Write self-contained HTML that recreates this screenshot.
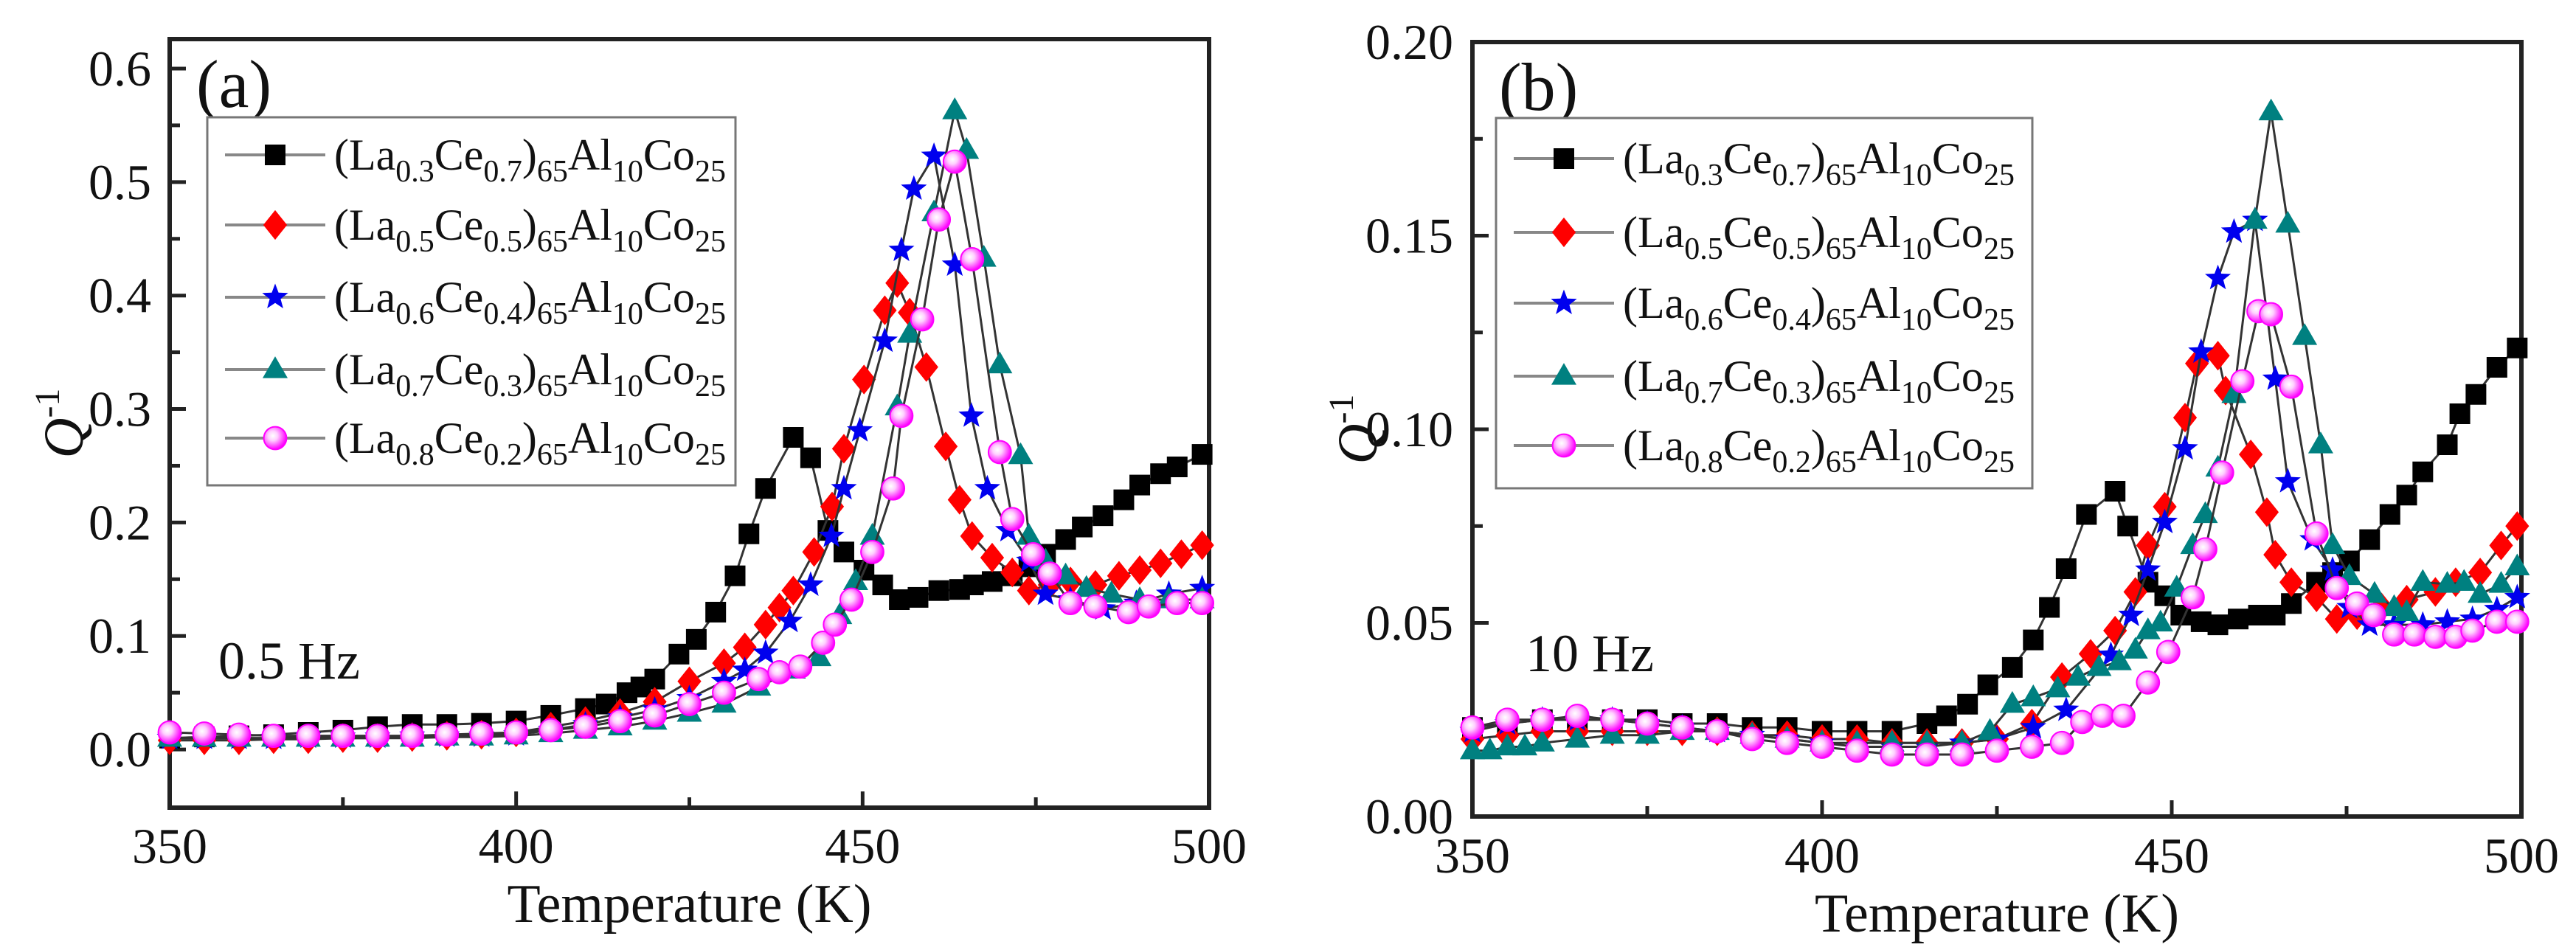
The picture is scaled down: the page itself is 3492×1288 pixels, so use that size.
<!DOCTYPE html>
<html><head><meta charset="utf-8">
<style>
html,body{margin:0;padding:0;background:#fff;}
svg{display:block;font-family:"Liberation Serif",serif;}
</style></head>
<body>
<svg id="fig" width="3492" height="1288" viewBox="0 0 3492 1288" xmlns="http://www.w3.org/2000/svg">
<defs>
<radialGradient id="mg" cx="0.4" cy="0.4" r="0.6">
<stop offset="0" stop-color="#fff"/><stop offset="0.35" stop-color="#ffd0ff"/><stop offset="1" stop-color="#ff00ff"/>
</radialGradient>
</defs>
</svg>
<script>
// ---------- Panel (a) data: 0.5 Hz ----------
const aT0=[350,355,360,365,370,375,380,385,390,395,400,405,410,413,416,418,420,423.5,426,428.8,431.6,433.6,436,440,442.5,445,447.3,450.2,452.9,455.3,458,461,464,466,468.7,471.6,474,476.4,479.3,481.7,484.7,487.7,490,493,495.4,499];
const aV0=[0.01,0.011,0.012,0.013,0.015,0.017,0.02,0.022,0.022,0.023,0.025,0.03,0.036,0.04,0.05,0.055,0.062,0.084,0.097,0.121,0.153,0.19,0.23,0.275,0.257,0.193,0.174,0.158,0.145,0.132,0.134,0.14,0.141,0.145,0.148,0.153,0.161,0.172,0.185,0.196,0.206,0.22,0.233,0.243,0.249,0.26];
const aT1=[350,355,360,365,370,375,380,385,390,395,400,405,410,415,420,425,430,433,436,438,440,443,445.6,447.3,450.2,453.2,455,456.8,459.2,462,464,465.8,468.7,471.6,474,477,480,483.6,487,490,493,496,499];
const aV1=[0.008,0.008,0.008,0.009,0.009,0.01,0.01,0.011,0.012,0.013,0.015,0.02,0.025,0.032,0.042,0.06,0.076,0.09,0.11,0.125,0.14,0.174,0.214,0.265,0.326,0.387,0.411,0.385,0.337,0.267,0.22,0.188,0.169,0.156,0.14,0.145,0.148,0.145,0.153,0.158,0.164,0.172,0.18];
const aT2=[350,355,360,365,370,375,380,385,390,395,400,405,410,415,420,425,430,433,436,439.5,442.5,445.5,447.3,449.6,453.2,455.6,457.4,460.3,463.3,465.7,468,471,474,476.4,480,484.7,489.5,494.2,499];
const aV2=[0.01,0.01,0.01,0.01,0.011,0.011,0.011,0.012,0.012,0.012,0.013,0.017,0.022,0.028,0.035,0.045,0.06,0.07,0.085,0.113,0.145,0.188,0.23,0.281,0.36,0.44,0.494,0.523,0.427,0.294,0.23,0.193,0.166,0.137,0.132,0.124,0.129,0.137,0.142];
const aT3=[350,355,360,365,370,375,380,385,390,395,400,405,410,415,420,425,430,435,440,443.7,446.7,449,451.4,455,456.8,460.3,463.3,465,467.5,469.8,472.8,474,476.4,479.3,482.3,485.9,490,494.2,499];
const aV3=[0.01,0.01,0.01,0.01,0.01,0.01,0.01,0.01,0.011,0.011,0.012,0.014,0.017,0.02,0.025,0.032,0.04,0.055,0.07,0.081,0.118,0.148,0.188,0.302,0.366,0.473,0.563,0.528,0.433,0.339,0.259,0.188,0.166,0.153,0.142,0.137,0.132,0.132,0.132];
const aT4=[350,355,360,365,370,375,380,385,390,395,400,405,410,415,420,425,430,435,438,441,444.3,446,448.4,451.4,454.4,455.6,458.6,461,463.3,465.8,469.8,471.6,474.6,477,480,483.6,488.4,491.3,495.4,499];
const aV4=[0.015,0.014,0.013,0.012,0.012,0.012,0.012,0.012,0.013,0.014,0.015,0.017,0.02,0.025,0.03,0.04,0.05,0.062,0.068,0.073,0.094,0.11,0.132,0.174,0.23,0.294,0.379,0.467,0.518,0.432,0.262,0.203,0.172,0.155,0.129,0.126,0.121,0.126,0.129,0.129];
// ---------- Panel (b) data: 10 Hz ----------
const bT0=[350,355,360,365,370,375,380,385,390,395,400,405,410,415,417.8,420.8,423.7,427.2,430.2,432.5,434.9,437.8,441.9,443.7,446.6,449,451.3,454.2,456.6,459.5,462.4,464.8,467.1,470.7,473,475.4,478.3,481.2,483.6,485.9,489.4,491.2,493.5,496.5,499.4];
const bV0=[0.023,0.024,0.025,0.025,0.025,0.025,0.024,0.024,0.023,0.023,0.022,0.022,0.022,0.024,0.026,0.029,0.034,0.0385,0.0456,0.054,0.064,0.078,0.084,0.075,0.0605,0.057,0.052,0.0503,0.0495,0.051,0.052,0.052,0.055,0.0605,0.063,0.066,0.0715,0.078,0.083,0.089,0.096,0.104,0.109,0.116,0.121];
const bT1=[350,355,360,365,370,375,380,385,390,395,400,405,410,415,420,425,430,434.3,438.4,441.9,444.8,446.6,449,451.9,453.6,456.6,457.7,461.3,463.6,464.8,467.1,470.7,473.6,476.5,480,483.6,487.7,490.6,494.1,497.1,499.4];
const bV1=[0.02,0.021,0.022,0.022,0.022,0.022,0.022,0.022,0.021,0.021,0.02,0.02,0.019,0.019,0.019,0.02,0.024,0.036,0.042,0.048,0.058,0.07,0.08,0.103,0.117,0.119,0.11,0.0935,0.0786,0.0676,0.0605,0.0566,0.051,0.052,0.054,0.056,0.058,0.0605,0.063,0.07,0.075];
const bT2=[350,355,360,365,370,375,380,385,390,395,400,405,410,415,420,425,430.2,434.9,441.3,444.2,446.6,449,451.9,454.2,456.6,458.9,461.9,464.8,466.6,470.1,473,475.4,478.3,481.8,485.9,489.4,493,496.5,499.4];
const bV2=[0.022,0.024,0.025,0.025,0.025,0.024,0.023,0.022,0.021,0.02,0.019,0.018,0.018,0.018,0.019,0.02,0.023,0.0275,0.0417,0.052,0.0637,0.076,0.095,0.12,0.139,0.151,0.154,0.113,0.0865,0.0715,0.0637,0.054,0.0495,0.0495,0.0495,0.0503,0.051,0.0535,0.0566];
const bT3=[350,352.5,355,357.5,360,365,370,375,380,385,390,395,400,405,410,415,420,424,427.2,430.2,433.7,436.6,439.6,442.5,444.8,446.6,448.4,450.7,453,454.8,456.6,458.9,461.9,464.2,466.6,469,471.3,473,475.4,479,481.8,483.6,485.9,489.4,491.8,494.1,497.1,499.4];
const bV3=[0.017,0.017,0.018,0.018,0.019,0.02,0.021,0.021,0.022,0.022,0.021,0.02,0.019,0.019,0.019,0.019,0.019,0.022,0.029,0.0307,0.033,0.036,0.0385,0.04,0.043,0.048,0.05,0.059,0.07,0.078,0.09,0.109,0.154,0.182,0.153,0.124,0.096,0.07,0.062,0.0574,0.054,0.0527,0.0605,0.06,0.0605,0.0574,0.06,0.0645];
const bT4=[350,355,360,365,370,375,380,385,390,395,400,405,410,415,420,425,430,434.3,437.2,440.1,443.1,446.6,449.5,453,454.8,457.2,460.1,462.4,464.2,467.1,470.7,473.6,476.5,478.9,481.8,484.7,487.7,490.6,493,496.5,499.4];
const bV4=[0.023,0.025,0.025,0.026,0.025,0.024,0.023,0.022,0.02,0.019,0.018,0.017,0.016,0.016,0.016,0.017,0.018,0.019,0.0244,0.026,0.026,0.0346,0.0425,0.0566,0.069,0.0888,0.1124,0.1305,0.1297,0.111,0.0731,0.059,0.055,0.052,0.047,0.047,0.0464,0.0464,0.048,0.0503,0.0503];
const xTicks=[350,400,450,500];
const aYTicks=[0.0,0.1,0.2,0.3,0.4,0.5,0.6];
const bYTicks=[0.00,0.05,0.10,0.15,0.20];
const legendSubs=[["0.3","0.7"],["0.5","0.5"],["0.6","0.4"],["0.7","0.3"],["0.8","0.2"]];

const NS="http://www.w3.org/2000/svg";
const svg=document.getElementById('fig');
function mk(tag,attrs,parent){const e=document.createElementNS(NS,tag);for(const k in attrs)e.setAttribute(k,attrs[k]);(parent||svg).appendChild(e);return e;}

function marker(g,kind,x,y,s){
  let e;
  if(kind===0){e=mk('rect',{x:x-s/2,y:y-s/2,width:s,height:s,fill:'#000'},g);}
  else if(kind===1){const r=s*0.72;e=mk('polygon',{points:`${x},${y-r} ${x+r*0.8},${y} ${x},${y+r} ${x-r*0.8},${y}`,fill:'#ff0000'},g);}
  else if(kind===2){const R=s*0.66,r=R*0.42;let p=[];for(let i=0;i<10;i++){const a=-Math.PI/2+i*Math.PI/5;const rr=i%2?r:R;p.push((x+rr*Math.cos(a)).toFixed(1)+','+(y+rr*Math.sin(a)).toFixed(1));}e=mk('polygon',{points:p.join(' '),fill:'#0000ee'},g);}
  else if(kind===3){const r=s*0.64;e=mk('polygon',{points:`${x},${y-r} ${x+r*0.95},${y+r*0.65} ${x-r*0.95},${y+r*0.65}`,fill:'#008080'},g);}
  else {e=mk('circle',{cx:x,cy:y,r:s*0.55,fill:'url(#mg)',stroke:'#ff00ff','stroke-width':2},g);}
  return e;
}

function panel(cfg){
  const {L,R,T,B,ymin,ymax,yTicks,yMinor,yFmt,series,label,freq,freqX,freqY,legX,legY,legW,legH,legRows,yTitleX,tickLabX,xLabY,name}=cfg;
  const sx=t=>L+(t-350)/150*(R-L);
  const sy=v=>B-(v-ymin)/(ymax-ymin)*(B-T);
  const g=mk('g',{});
  
  
  const axes=mk('g',{},g);
  
  
  mk('rect',{x:L,y:T,width:R-L,height:B-T,fill:'none',stroke:'#222','stroke-width':6},axes);
  for(let t=350;t<=500;t+=25){const major=(t%50===0);mk('line',{x1:sx(t),x2:sx(t),y1:B,y2:B-(major?22:14),stroke:'#222','stroke-width':5},axes);}
  xTicks.forEach(t=>{const tx=mk('text',{x:sx(t),y:xLabY,'font-size':68,'text-anchor':'middle',fill:'#111'},g);tx.textContent=t;
    
    });
  yTicks.forEach(v=>{mk('line',{x1:L,x2:L+22,y1:sy(v),y2:sy(v),stroke:'#222','stroke-width':5},axes);
    const tx=mk('text',{x:tickLabX,y:sy(v)+23,'font-size':68,'text-anchor':'end',fill:'#111'},g);tx.textContent=yFmt(v);
    
    });
  yMinor.forEach(v=>{mk('line',{x1:L,x2:L+14,y1:sy(v),y2:sy(v),stroke:'#222','stroke-width':5},axes);});
  const xt=mk('text',{x:(L+R)/2,y:xLabY+80,'font-size':74,'text-anchor':'middle',fill:'#111'},g);
  xt.textContent='Temperature (K)';
  
  
  const yt=mk('text',{x:0,y:0,'font-size':76,'text-anchor':'middle',fill:'#111',transform:`translate(${yTitleX},${(T+B)/2}) rotate(-90)`},g);
  
  
  const q=mk('tspan',{'font-style':'italic'},yt);q.textContent='Q';
  const sup=mk('tspan',{'font-size':48,dy:-32},yt);sup.textContent='-1';
  const pl=mk('text',{x:L+36,y:T+92,'font-size':92,fill:'#111'},g);pl.textContent=label;
  
  
  const fq=mk('text',{x:freqX,y:freqY,'font-size':72,fill:'#111'},g);fq.textContent=freq;
  
  
  series.forEach((s,k)=>{
    const sg=mk('g',{},g);
    
    
    const pts=s[0].map((t,i)=>sx(t).toFixed(1)+','+sy(s[1][i]).toFixed(1)).join(' ');
    mk('polyline',{points:pts,fill:'none',stroke:'#333','stroke-width':3},sg);
    s[0].forEach((t,i)=>{const m=marker(sg,k,sx(t),sy(s[1][i]),28);
      
      });
  });
  const lg=mk('g',{},g);
  
  
  mk('rect',{x:legX,y:legY,width:legW,height:legH,fill:'#fff',stroke:'#777','stroke-width':3},lg);
  legRows.forEach((ry,k)=>{
    const eg=mk('g',{},lg);
    
    
    mk('line',{x1:legX+24,x2:legX+160,y1:ry,y2:ry,stroke:'#888','stroke-width':4},eg);
    marker(eg,k,legX+92,ry,28);
    const tx=mk('text',{x:legX+172,y:ry+20,'font-size':60,fill:'#111'},eg);
    const parts=[['(La',0],[legendSubs[k][0],1],['Ce',0],[legendSubs[k][1],1],[')',0],['65',1],['Al',0],['10',1],['Co',0],['25',1]];
    let sub=false;
    parts.forEach(p=>{const ts=mk('tspan',{},tx);
      if(p[1]&&!sub){ts.setAttribute('dy',16);ts.setAttribute('font-size',42);sub=true;}
      else if(p[1]){ts.setAttribute('font-size',42);}
      else if(!p[1]&&sub){ts.setAttribute('dy',-16);sub=false;}
      ts.textContent=p[0];});
  });
}

panel({name:'panel-a',L:230,R:1639,T:53,B:1095,ymin:-0.0513,ymax:0.626,
  yTicks:aYTicks,yMinor:[0.05,0.15,0.25,0.35,0.45,0.55],yFmt:v=>v.toFixed(1),
  series:[[aT0,aV0],[aT1,aV1],[aT2,aV2],[aT3,aV3],[aT4,aV4]],
  label:'(a)',freq:'0.5 Hz',freqX:296,freqY:920,legX:281,legY:159,legW:716,legH:499,
  legRows:[210,305,403,501,594],yTitleX:112,tickLabX:205,xLabY:1170});
panel({name:'panel-b',L:1996,R:3418,T:57,B:1107,ymin:0,ymax:0.2,
  yTicks:bYTicks,yMinor:[0.025,0.075,0.125,0.175],yFmt:v=>v.toFixed(2),
  series:[[bT0,bV0],[bT1,bV1],[bT2,bV2],[bT3,bV3],[bT4,bV4]],
  label:'(b)',freq:'10 Hz',freqX:2068,freqY:910,legX:2028,legY:160,legW:727,legH:502,
  legRows:[215,315,411,510,604],yTitleX:1866,tickLabX:1970,xLabY:1183});
</script>
</body></html>
